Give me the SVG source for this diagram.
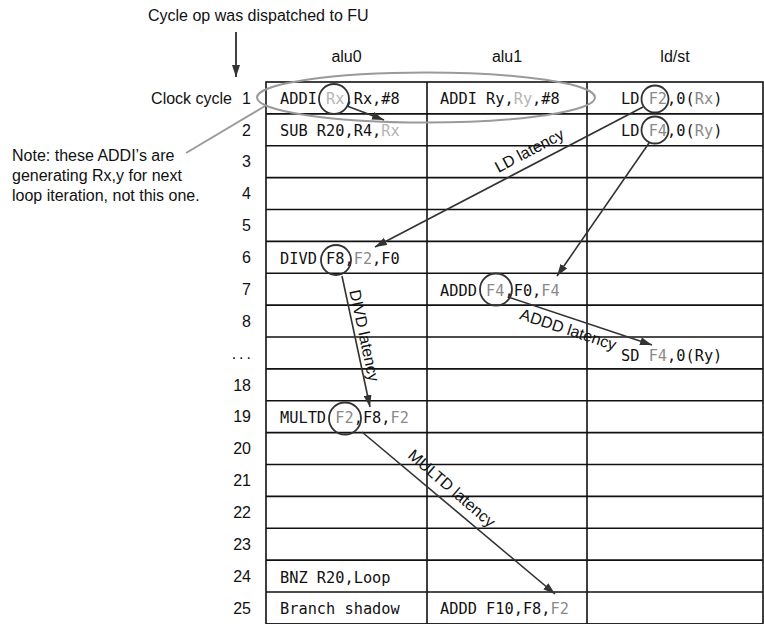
<svg xmlns="http://www.w3.org/2000/svg" width="764" height="624" viewBox="0 0 764 624">
<style>
.t{font-family:"Liberation Sans",Arial,sans-serif;font-size:16px;fill:#111}
.r{font-family:"Liberation Sans",Arial,sans-serif;font-size:16px;fill:#111;text-anchor:end}
.m{font-family:"DejaVu Sans Mono","Liberation Mono",monospace;font-size:15.3px;fill:#111}
.lg{fill:#b5b5b5}
.mg{fill:#8a8a8a}
.grid{fill:none;stroke:#111;stroke-width:1.6}
.hl{stroke:#111;stroke-width:1.6}
.ring{fill:none;stroke:#333;stroke-width:1.8}
.conn{stroke:#333;stroke-width:1.6;fill:none;marker-end:url(#ah)}
.note{stroke:#9a9a9a;stroke-width:2;fill:none}
</style>
<defs>
<marker id="ah" markerUnits="userSpaceOnUse" markerWidth="12" markerHeight="8" refX="12" refY="4" orient="auto">
<path d="M0,0 L12,4 L0,8 z" fill="#333"/>
</marker>
</defs>
<rect width="764" height="624" fill="#fff"/>

<g id="title">
<text class="t" x="148" y="21">Cycle op was dispatched to FU</text>
<line x1="236" y1="32" x2="236" y2="77" stroke="#111" stroke-width="1.6" marker-end="url(#ah)"/>
</g>

<g id="headers">
<text class="t" x="346.5" y="62" text-anchor="middle">alu0</text>
<text class="t" x="507" y="62" text-anchor="middle">alu1</text>
<text class="t" x="675" y="62" text-anchor="middle">ld/st</text>
</g>

<g id="table">
<rect class="grid" x="266" y="82" width="497" height="541.9"/>
<line class="hl" x1="427" y1="82" x2="427" y2="624"/>
<line class="hl" x1="587" y1="82" x2="587" y2="624"/>
<line class="hl" x1="266" y1="113.9" x2="763" y2="113.9"/>
<line class="hl" x1="266" y1="145.75" x2="763" y2="145.75"/>
<line class="hl" x1="266" y1="177.6" x2="763" y2="177.6"/>
<line class="hl" x1="266" y1="209.5" x2="763" y2="209.5"/>
<line class="hl" x1="266" y1="241.4" x2="763" y2="241.4"/>
<line class="hl" x1="266" y1="273.25" x2="763" y2="273.25"/>
<line class="hl" x1="266" y1="305.1" x2="763" y2="305.1"/>
<line class="hl" x1="266" y1="337" x2="763" y2="337"/>
<line class="hl" x1="266" y1="368.9" x2="763" y2="368.9"/>
<line class="hl" x1="266" y1="400.75" x2="763" y2="400.75"/>
<line class="hl" x1="266" y1="432.6" x2="763" y2="432.6"/>
<line class="hl" x1="266" y1="464.5" x2="763" y2="464.5"/>
<line class="hl" x1="266" y1="496.4" x2="763" y2="496.4"/>
<line class="hl" x1="266" y1="528.25" x2="763" y2="528.25"/>
<line class="hl" x1="266" y1="560.1" x2="763" y2="560.1"/>
<line class="hl" x1="266" y1="592" x2="763" y2="592"/>
</g>

<g id="row-labels">
<text class="r" x="232" y="103.6">Clock cycle</text>
<text class="r" x="251" y="103.6">1</text>
<text class="r" x="251" y="135.5">2</text>
<text class="r" x="251" y="167.4">3</text>
<text class="r" x="251" y="199.3">4</text>
<text class="r" x="251" y="231.1">5</text>
<text class="r" x="251" y="263">6</text>
<text class="r" x="251" y="294.9">7</text>
<text class="r" x="251" y="326.8">8</text>
<text class="r" x="254" y="358.6" letter-spacing="3">...</text>
<text class="r" x="251" y="390.5">18</text>
<text class="r" x="251" y="422.4">19</text>
<text class="r" x="251" y="454.3">20</text>
<text class="r" x="251" y="486.1">21</text>
<text class="r" x="251" y="518">22</text>
<text class="r" x="251" y="549.9">23</text>
<text class="r" x="251" y="581.8">24</text>
<text class="r" x="251" y="613.6">25</text>
</g>

<g id="note">
<text class="t" x="12" y="161">Note: these ADDI’s are</text>
<text class="t" x="12" y="181">generating Rx,y for next</text>
<text class="t" x="12" y="201">loop iteration, not this one.</text>
<ellipse class="note" cx="426" cy="97.5" rx="169" ry="25"/>
<line class="note" x1="265" y1="106" x2="186" y2="153"/>
</g>

<g id="cells">
<text class="m" x="280" y="104.4">ADDI <tspan class="lg">Rx</tspan>,Rx,#8</text>
<text class="m" x="440" y="104.4">ADDI Ry,<tspan class="lg">Ry</tspan>,#8</text>
<text class="m" x="621" y="104.4">LD <tspan class="mg">F2</tspan>,0(<tspan class="mg">Rx</tspan>)</text>
<text class="m" x="280" y="136.3">SUB R20,R4,<tspan class="lg">Rx</tspan></text>
<text class="m" x="621" y="136.3">LD <tspan class="mg">F4</tspan>,0(<tspan class="mg">Ry</tspan>)</text>
<text class="m" x="280" y="263.8">DIVD F8,<tspan class="mg">F2</tspan>,F0</text>
<text class="m" x="440" y="295.7">ADDD <tspan class="mg">F4</tspan>,F0,<tspan class="mg">F4</tspan></text>
<text class="m" x="621" y="361">SD <tspan class="mg">F4</tspan>,0(Ry)</text>
<text class="m" x="280" y="423.2">MULTD <tspan class="mg">F2</tspan>,F8,<tspan class="mg">F2</tspan></text>
<text class="m" x="280" y="582.6">BNZ R20,Loop</text>
<text class="m" x="280" y="614.4">Branch shadow</text>
<text class="m" x="440" y="614.4">ADDD F10,F8,<tspan class="mg">F2</tspan></text>
</g>

<g id="rings">
<circle class="ring" cx="334" cy="99" r="15"/>
<circle class="ring" cx="655" cy="99" r="13.5"/>
<circle class="ring" cx="655" cy="130" r="13.5"/>
<circle class="ring" cx="336" cy="260" r="15"/>
<circle class="ring" cx="496" cy="289.5" r="16"/>
<circle class="ring" cx="345" cy="418.5" r="16"/>
</g>

<g id="connectors">
<line class="conn" x1="347" y1="106" x2="384" y2="120"/>
<line class="conn" x1="643" y1="107" x2="375" y2="247"/>
<line class="conn" x1="649" y1="143" x2="557" y2="276"/>
<line class="conn" x1="342" y1="276" x2="370" y2="407"/>
<line class="conn" x1="508" y1="297" x2="652" y2="345"/>
<line class="conn" x1="362" y1="432" x2="555" y2="594"/>
<text class="t" transform="translate(535.6,162.4) rotate(-27.8)" x="0" y="-8" text-anchor="middle">LD latency</text>
<text class="t" transform="translate(355.2,337.6) rotate(77.9)" x="0" y="-4" text-anchor="middle">DIVD latency</text>
<text class="t" transform="translate(571.8,318.5) rotate(18.3)" x="0" y="17" text-anchor="middle">ADDD latency</text>
<text class="t" transform="translate(443.6,497.8) rotate(40.8)" x="0" y="-7" text-anchor="middle">MULTD latency</text>
</g>
</svg>
